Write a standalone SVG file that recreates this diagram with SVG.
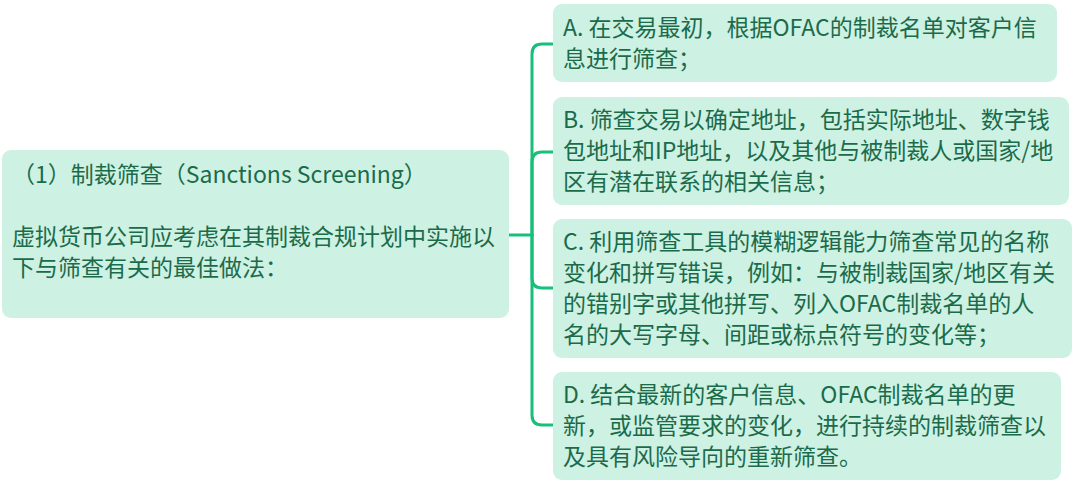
<svg xmlns="http://www.w3.org/2000/svg" width="1080" height="486" viewBox="0 0 1080 486">
  <style>
    .node { fill: #cdf1e2; }
    .t { font-family: "Noto Sans CJK SC", "Noto Sans", sans-serif; fill: #1b6b4b; }
    .r { font-size: 23px; }
    .l { font-size: 23px; }
    .conn { fill: none; stroke: #16c07a; stroke-width: 3; stroke-linecap: round; stroke-linejoin: round; }
  </style>
  <rect width="1080" height="486" fill="#ffffff"/>
  <g id="connectors">
    <path class="conn" d="M509 235 H532"/>
    <path class="conn" d="M532 235 V54 Q532 44 542 44 H553"/>
    <path class="conn" d="M532 235 V162 Q532 152 542 152 H553"/>
    <path class="conn" d="M532 235 V278 Q532 288 542 288 H553"/>
    <path class="conn" d="M532 235 V415 Q532 425 542 425 H553"/>
  </g>
  <g id="root">
    <rect class="node" x="2" y="150" width="507" height="168" rx="9"/>
    <text class="t l" x="12" y="183">（1）制裁筛查（Sanctions Screening）</text>
    <text class="t l" x="12" y="245">虚拟货币公司应考虑在其制裁合规计划中实施以</text>
    <text class="t l" x="12" y="276">下与筛查有关的最佳做法：</text>
  </g>
  <g id="nodeA">
    <rect class="node" x="553" y="4" width="504" height="78" rx="9"/>
    <text class="t r" x="563" y="36">A. 在交易最初，根据OFAC的制裁名单对客户信</text>
    <text class="t r" x="563" y="67">息进行筛查；</text>
  </g>
  <g id="nodeB">
    <rect class="node" x="553" y="97" width="516" height="108" rx="9"/>
    <text class="t r" x="563" y="128">B. 筛查交易以确定地址，包括实际地址、数字钱</text>
    <text class="t r" x="563" y="159">包地址和IP地址，以及其他与被制裁人或国家/地</text>
    <text class="t r" x="563" y="190">区有潜在联系的相关信息；</text>
  </g>
  <g id="nodeC">
    <rect class="node" x="553" y="219" width="519" height="139" rx="9"/>
    <text class="t r" x="563" y="250">C. 利用筛查工具的模糊逻辑能力筛查常见的名称</text>
    <text class="t r" x="563" y="281">变化和拼写错误，例如：与被制裁国家/地区有关</text>
    <text class="t r" x="563" y="312">的错别字或其他拼写、列入OFAC制裁名单的人</text>
    <text class="t r" x="563" y="343">名的大写字母、间距或标点符号的变化等；</text>
  </g>
  <g id="nodeD">
    <rect class="node" x="553" y="372" width="508" height="108" rx="9"/>
    <text class="t r" x="563" y="403">D. 结合最新的客户信息、OFAC制裁名单的更</text>
    <text class="t r" x="563" y="434">新，或监管要求的变化，进行持续的制裁筛查以</text>
    <text class="t r" x="563" y="465">及具有风险导向的重新筛查。</text>
  </g>
</svg>
